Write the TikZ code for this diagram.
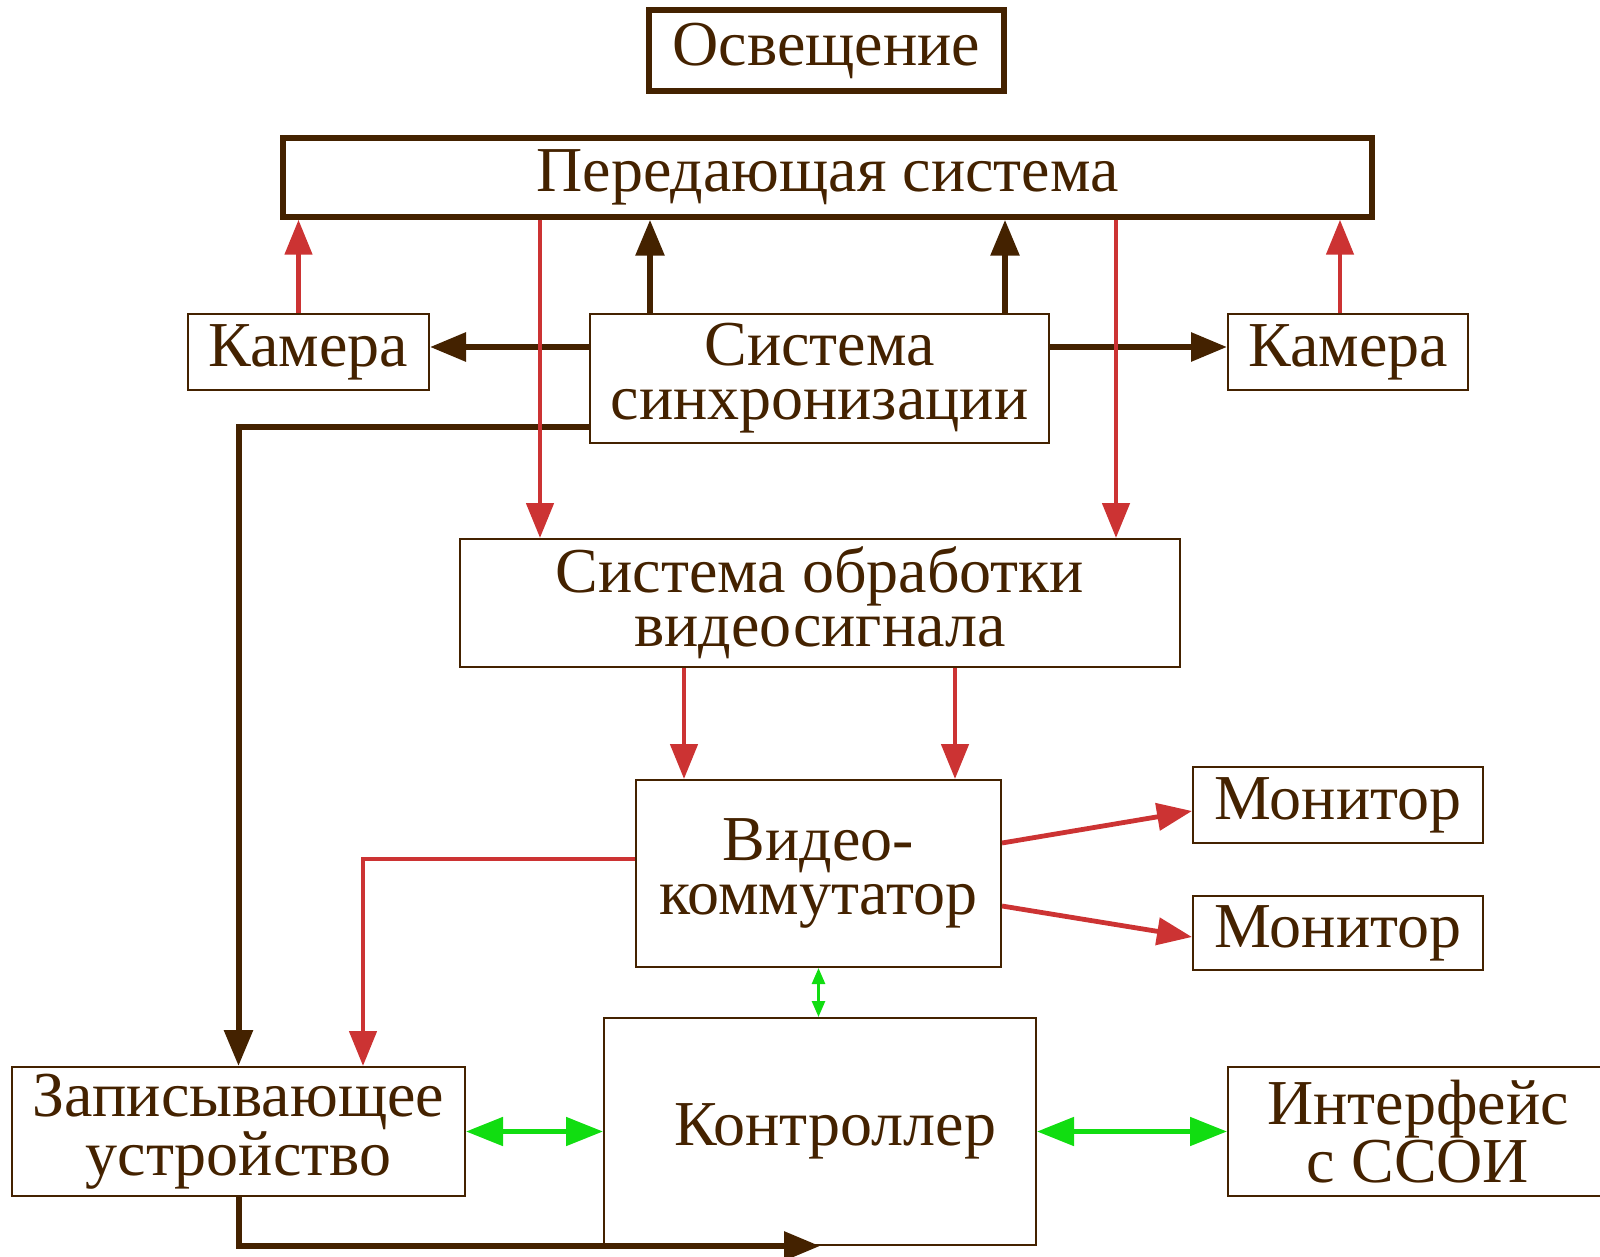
\documentclass[tikz,border=0pt]{standalone}
\usepackage{fontspec}
\setmainfont{Liberation Serif}
\usetikzlibrary{arrows.meta,positioning}
\definecolor{marron}{RGB}{68,34,0}
\definecolor{rojoV}{RGB}{204,51,51}
\definecolor{verdeV}{RGB}{17,221,17}

\begin{document}
\begin{tikzpicture}[
  x=0.5pt, y=-0.5pt,
  every node/.style = {align=center, font=\fontsize{32}{27}\selectfont, text=marron},
  blk/.style   = {rectangle, draw=marron, line width=1pt, inner sep=0pt},
  blkT/.style  = {blk, line width=2.75pt},
  arrK/.style  = {-{Triangle[length=18pt,width=14pt]}, draw=marron, line width=3pt},
  arrR/.style  = {-{Triangle[length=17.5pt,width=13.5pt]}, draw=rojoV, line width=2.4pt},
  arrG/.style  = {{Triangle[length=18.5pt,width=14pt]}-{Triangle[length=18.5pt,width=14pt]},
                  draw=verdeV, line width=2.5pt},
  arrGs/.style = {{Triangle[length=8pt,width=6.5pt]}-{Triangle[length=8pt,width=6.5pt]},
                  draw=verdeV, line width=1.3pt},
]
\useasboundingbox (0,0) rectangle (1600,1257);

% ── Bloques ──────────────────────────────────────────────────
\node[blkT, minimum width=177.5pt, minimum height=40.5pt] (Osv)  at (826.5,50.5)  {Освещение};
\node[blkT, minimum width=544.5pt, minimum height=39.5pt] (Per)  at (827.5,177.5) {Передающая система};
\node[blk,  minimum width=120.5pt, minimum height=38pt]   (CamL) at (308.5,352)   {Камера};
\node[blk,  minimum width=229.5pt, minimum height=64.5pt] (Sinc) at (819.5,378.5) {Система\\синхронизации};
\node[blk,  minimum width=120pt,   minimum height=38pt]   (CamR) at (1348,352)    {Камера};
\node[blk,  minimum width=360pt,   minimum height=64pt]   (Obr)  at (820,603)     {Система обработки\\видеосигнала};
\node[blk,  minimum width=182.5pt, minimum height=93.5pt] (VK)   at (818.5,873.5) {Видео-\\коммутатор};
\node[blk,  minimum width=145pt,   minimum height=38pt]   (Mon1) at (1338,805)    {Монитор};
\node[blk,  minimum width=145pt,   minimum height=37pt]   (Mon2) at (1338,933)    {Монитор};
\node[blk,  minimum width=226.5pt, minimum height=64.5pt] (Zap)  at (238.5,1131.5) {Записывающее\\устройство};
\node[blk,  minimum width=216pt,   minimum height=113.5pt] (Ctrl) at (820,1131.5) {\hspace*{15pt}Контроллер};
\node[blk,  minimum width=190pt,   minimum height=64.5pt] (Intf) at (1418,1131.5) {Интерфейс\\с ССОИ};

% ── Sincronización ───────────────────────────────────────────
\draw[arrK] ([xshift=-84.75pt]Sinc.north) -- ([xshift=-84.75pt]Sinc.north |- Per.south);
\draw[arrK] ([xshift=92.75pt]Sinc.north)  -- ([xshift=92.75pt]Sinc.north |- Per.south);
\draw[arrK] ([yshift=15.75pt]Sinc.west) -- ([yshift=15.75pt]Sinc.west -| CamL.east);
\draw[arrK] ([yshift=15.75pt]Sinc.east) -- ([yshift=15.75pt]Sinc.east -| CamR.west);
\draw[arrK] ([yshift=-24.25pt]Sinc.west) -| (Zap.north);
\draw[arrK] (Zap.south) |- (Ctrl.south);

% ── Señal de vídeo ───────────────────────────────────────────
\draw[arrR] ([xshift=-5pt]CamL.north) -- ([xshift=-5pt]CamL.north |- Per.south);
\draw[arrR] ([xshift=-4pt]CamR.north) -- ([xshift=-4pt]CamR.north |- Per.south);
\draw[arrR] ([xshift=-140pt]Obr.north |- Per.south) -- ([xshift=-140pt]Obr.north);
\draw[arrR] ([xshift=148pt]Obr.north |- Per.south)  -- ([xshift=148pt]Obr.north);
\draw[arrR] ([xshift=-67.25pt]VK.north |- Obr.south) -- ([xshift=-67.25pt]VK.north);
\draw[arrR] ([xshift=68.25pt]VK.north |- Obr.south)  -- ([xshift=68.25pt]VK.north);
\draw[arrR] ([yshift=15.25pt]VK.east)  -- ([yshift=-3pt]Mon1.west);
\draw[arrR] ([yshift=-16.25pt]VK.east) -- ([yshift=-2pt]Mon2.west);
\draw[arrR] ([yshift=7.25pt]VK.west) -| ([xshift=62.25pt]Zap.north);

% ── Control ──────────────────────────────────────────────────
\draw[arrGs] (VK.south) -- (VK.south |- Ctrl.north);
\draw[arrG]  (Zap.east) -- (Ctrl.west);
\draw[arrG]  (Ctrl.east) -- (Intf.west);

\end{tikzpicture}
\end{document}
